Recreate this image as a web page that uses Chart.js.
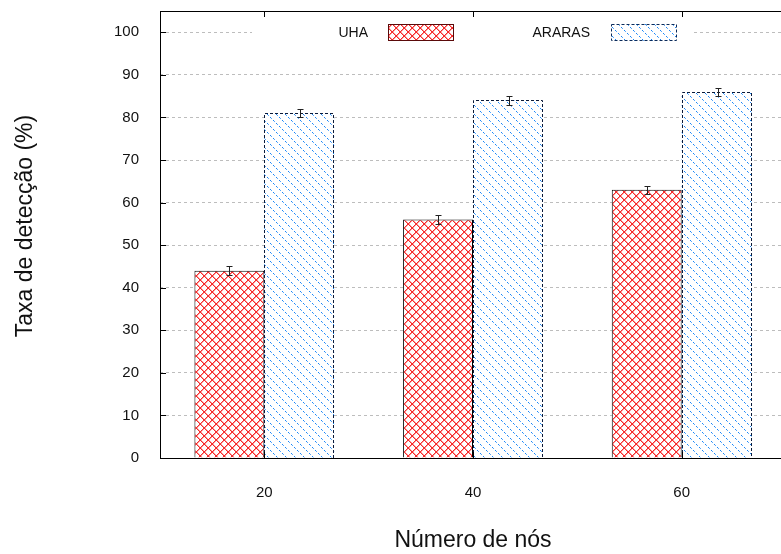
<!DOCTYPE html>
<html>
<head>
<meta charset="utf-8">
<script src="https://cdn.jsdelivr.net/npm/chart.js@4/dist/chart.umd.min.js"></script>
<style>
  html, body { margin: 0; padding: 0; background: #fff; overflow: hidden; }
  #wrap { width: 790px; height: 554px; }
</style>
</head>
<body>
<div id="wrap"><canvas id="chart"></canvas></div>
<script>
// dados
const categorias = ['20', '40', '60'];
const valoresUHA = [44, 56, 63];
const valoresARARAS = [81, 84, 86];
const erroUHA = [1, 1, 1];
const erroARARAS = [1, 1, 1];
const nomesSeries = ['UHA', 'ARARAS'];
const tituloY = 'Taxa de detecção (%)';
const tituloX = 'Número de nós';

const FONTE = '"Liberation Sans", Arial, Helvetica, sans-serif';

// padrões de preenchimento (hachuras), desenhados pixel a pixel
function padraoCruzado() {
  const n = 8;
  const c = document.createElement('canvas');
  c.width = n; c.height = n;
  const g = c.getContext('2d');
  g.fillStyle = '#fff';
  g.fillRect(0, 0, n, n);
  for (let i = 0; i < n; i++) {
    g.fillStyle = '#ff9a9a';
    g.fillRect((i + 1) % n, i, 1, 1);
    g.fillRect((2 * n - i) % n, i, 1, 1);
    g.fillStyle = '#f52c2c';
    g.fillRect(i, i, 1, 1);
    g.fillRect(n - 1 - i, i, 1, 1);
  }
  return g.createPattern(c, 'repeat');
}

function padraoDiagonal() {
  const n = 9;
  const c = document.createElement('canvas');
  c.width = n; c.height = n;
  const g = c.getContext('2d');
  g.fillStyle = '#fff';
  g.fillRect(0, 0, n, n);
  for (let i = 0; i < n; i++) {
    if (i % 3 === 2) continue;
    g.fillStyle = i % 3 === 0 ? '#1a86f7' : '#5eaafa';
    g.fillRect(i, i, 1, 1);
  }
  return g.createPattern(c, 'repeat');
}

// moldura, bordas tracejadas, marcas de escala, barras de erro, legenda e título y
const extras = {
  id: 'extras',
  afterDatasetsDraw(chart) {
    const ctx = chart.ctx;
    const area = chart.chartArea;
    const x = chart.scales.x;
    const y = chart.scales.y;
    ctx.save();

    // borda tracejada das barras ARARAS
    ctx.strokeStyle = '#0a1a3a';
    ctx.lineWidth = 1;
    ctx.setLineDash([3, 2]);
    chart.getDatasetMeta(1).data.forEach(bar => {
      const l = Math.round(bar.x - bar.width / 2) + 0.5;
      const r = Math.round(bar.x + bar.width / 2) - 0.5;
      const t = Math.round(bar.y) + 0.5;
      ctx.beginPath();
      ctx.moveTo(l, area.bottom); ctx.lineTo(l, t);
      ctx.lineTo(r, t); ctx.lineTo(r, area.bottom);
      ctx.stroke();
    });
    ctx.setLineDash([]);

    // barras de erro
    const erros = [erroUHA, erroARARAS];
    ctx.strokeStyle = '#222';
    chart.data.datasets.forEach((ds, i) => {
      chart.getDatasetMeta(i).data.forEach((bar, j) => {
        const v = ds.data[j];
        const e = erros[i][j];
        const cx = Math.round(bar.x) + 0.5 + (i === 1 ? 1 : 0);
        const y1 = Math.round(y.getPixelForValue(v + e)) + 0.5;
        const y2 = Math.round(y.getPixelForValue(v - e)) + 0.5;
        ctx.beginPath();
        ctx.moveTo(cx, y1); ctx.lineTo(cx, y2);
        ctx.moveTo(cx - 3, y1); ctx.lineTo(cx + 3, y1);
        ctx.moveTo(cx - 3, y2); ctx.lineTo(cx + 3, y2);
        ctx.stroke();
      });
    });

    // moldura
    ctx.strokeStyle = '#000';
    ctx.strokeRect(area.left + 0.5, area.top + 0.5, area.right - area.left, area.bottom - area.top);

    // marcas do eixo y (para dentro)
    ctx.beginPath();
    y.ticks.forEach(t => {
      if (t.value > 100) return;
      const py = Math.round(y.getPixelForValue(t.value)) + 0.5;
      ctx.moveTo(area.left, py); ctx.lineTo(area.left + 6, py);
    });
    // marcas do eixo x (topo e base)
    categorias.forEach((c, i) => {
      const px = Math.round(x.getPixelForValue(i)) + 0.5;
      ctx.moveTo(px, area.top); ctx.lineTo(px, area.top + 6);
      ctx.moveTo(px, area.bottom); ctx.lineTo(px, area.bottom - 6);
    });
    ctx.stroke();

    // legenda
    ctx.fillStyle = '#fff';
    ctx.fillRect(252, 21, 441, 23);
    ctx.font = '14px ' + FONTE;
    ctx.textBaseline = 'middle';
    ctx.textAlign = 'right';
    const itens = [
      { texto: nomesSeries[0], xTexto: 368, xCaixa: 388, fundo: padraoCruzado(), borda: '#5a0a0a', dash: [] },
      { texto: nomesSeries[1], xTexto: 590, xCaixa: 611, fundo: padraoDiagonal(), borda: '#0a2a5a', dash: [3, 2] }
    ];
    itens.forEach(it => {
      ctx.fillStyle = '#111';
      ctx.fillText(it.texto, it.xTexto, 33);
      ctx.fillStyle = it.fundo;
      ctx.fillRect(it.xCaixa, 24, 65, 17);
      ctx.strokeStyle = it.borda;
      ctx.setLineDash(it.dash);
      ctx.strokeRect(it.xCaixa + 0.5, 24.5, 65, 16);
      ctx.setLineDash([]);
    });

    // título do eixo y
    ctx.translate(26, 226);
    ctx.rotate(-Math.PI / 2);
    ctx.font = '23px ' + FONTE;
    ctx.fillStyle = '#111';
    ctx.textAlign = 'center';
    ctx.textBaseline = 'middle';
    ctx.fillText(tituloY, 0, 0);

    ctx.restore();
  }
};

new Chart(document.getElementById('chart'), {
  type: 'bar',
  data: {
    labels: categorias,
    datasets: [
      {
        label: nomesSeries[0],
        data: valoresUHA,
        backgroundColor: padraoCruzado(),
        borderColor: '#000',
        borderWidth: 1,
        borderSkipped: 'bottom',
        categoryPercentage: 0.67,
        barPercentage: 1
      },
      {
        label: nomesSeries[1],
        data: valoresARARAS,
        backgroundColor: padraoDiagonal(),
        borderWidth: 0,
        categoryPercentage: 0.67,
        barPercentage: 1
      }
    ]
  },
  options: {
    responsive: true,
    maintainAspectRatio: false,
    animation: false,
    layout: { padding: { top: 11, right: 4, left: 0, bottom: 0 } },
    plugins: {
      legend: { display: false },
      tooltip: { enabled: false }
    },
    scales: {
      x: {
        offset: true,
        grid: { display: false, drawTicks: false },
        border: { display: false },
        ticks: { color: '#111', padding: 26, font: { family: FONTE, size: 15 } },
        title: {
          display: true,
          text: tituloX,
          color: '#111',
          padding: { top: 0, bottom: 0 },
          font: { family: FONTE, size: 23 }
        },
        afterFit: (s) => { s.height = 96; s.paddingLeft = 0; s.paddingRight = 0; }
      },
      y: {
        min: 0,
        max: 105,
        grid: { color: '#bdbdbd', drawTicks: false },
        border: { display: false, dash: [3, 3] },
        ticks: {
          stepSize: 10,
          color: '#111',
          padding: 21,
          font: { family: FONTE, size: 15 },
          callback: (v) => (v > 100 ? '' : v)
        },
        afterFit: (s) => { s.width = 160; s.paddingTop = 0; s.paddingBottom = 0; }
      }
    }
  },
  plugins: [extras]
});
</script>
</body>
</html>
